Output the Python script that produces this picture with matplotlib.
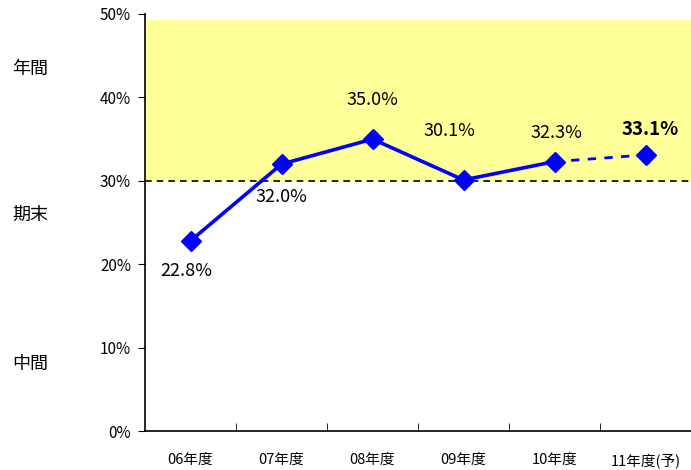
import matplotlib
matplotlib.use("Agg")
import matplotlib.pyplot as plt
import numpy as np

plt.rcParams['font.family'] = ['Noto Sans CJK JP', 'DejaVu Sans']

categories = ["06年度", "07年度", "08年度", "09年度", "10年度", "11年度(予)"]
values = [22.8, 32.0, 35.0, 30.1, 32.3, 33.1]
labels = ["22.8%", "32.0%", "35.0%", "30.1%", "32.3%", "33.1%"]
yticks = [0, 10, 20, 30, 40, 50]
ytick_labels = ["0%", "10%", "20%", "30%", "40%", "50%"]
side_labels = ["年間", "期末", "中間"]
side_y = [43.4, 25.9, 8.0]

fig = plt.figure(figsize=(6.91, 4.70), dpi=100)
ax = fig.add_axes([145/691, 39/470, 546/691, 417/470])

x = np.arange(len(categories))
ax.set_xlim(-0.5, len(categories) - 0.5)
ax.set_ylim(0, 50)

# yellow band
ax.axhspan(30, 49.3, color="#FFFF99", zorder=0, lw=0)
ax.axhline(30, color="black", ls=(0, (4, 3)), lw=1.2, zorder=1)

blue = "#0000FF"
ax.plot(x[:5], values[:5], color=blue, lw=2.6, zorder=3)
ax.plot(x[4:], values[4:], color=blue, lw=2.0, ls=(0, (3, 3)), zorder=3)
ax.plot(x, values, ls="none", marker="D", color=blue, markersize=10, zorder=4)

offsets = [(-0.05, -3.6), (0.0, -3.9), (0.0, 4.7), (-0.16, 5.9), (0.02, 3.4), (0.05, 3.0)]
for i, (lab, (dx, dy)) in enumerate(zip(labels, offsets)):
    bold = (i == len(labels) - 1)
    ax.text(x[i] + dx, values[i] + dy, lab, ha="center", va="center",
            fontsize=13 if not bold else 13.5,
            fontweight="bold" if bold else "normal", zorder=5)

ax.set_yticks(yticks)
ax.set_yticklabels(ytick_labels, fontsize=11)
ax.tick_params(axis="y", direction="out", length=5, pad=5)

ax.set_xticks(x)
ax.set_xticklabels(categories, fontsize=10.5)
ax.set_xticks(np.arange(len(categories)) + 0.5, minor=True)
ax.tick_params(axis="x", which="major", length=0, pad=16)
ax.tick_params(axis="x", which="minor", direction="in", length=6)

for s in ["top", "right"]:
    ax.spines[s].set_visible(False)
ax.spines["left"].set_linewidth(1.2)
ax.spines["bottom"].set_linewidth(1.2)

for lab, yv in zip(side_labels, side_y):
    fig.text(12/691, ax.transData.transform((0, yv))[1] / 470, lab,
             fontsize=13, ha="left", va="center")

fig.savefig("out.png", dpi=100)
